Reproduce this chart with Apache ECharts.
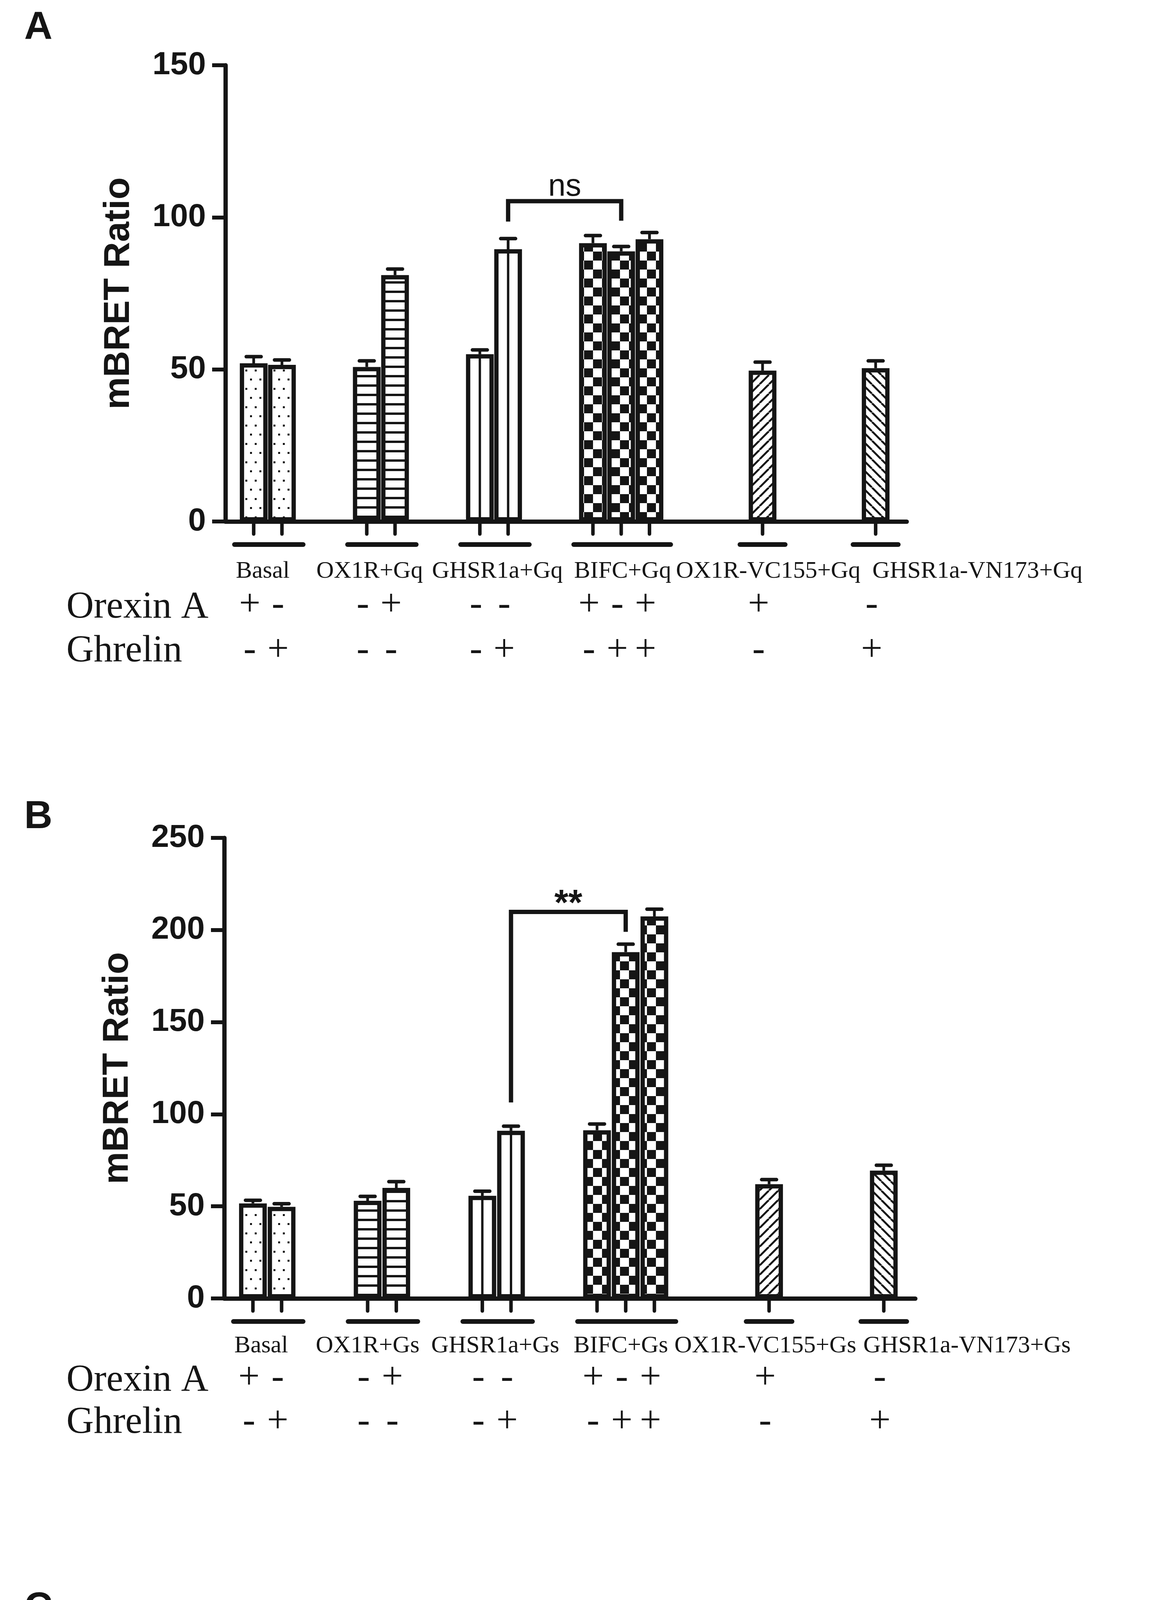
<!DOCTYPE html>
<html><head><meta charset="utf-8">
<script src="https://cdn.jsdelivr.net/npm/echarts@6/dist/echarts.min.js"></script>
<style>html,body{margin:0;padding:0;background:#fff}#c{width:3000px;height:5868px}</style>
</head><body><div id="c"></div>
<script>
// ---------------- data ----------------
const groupSizes = [2, 2, 2, 3, 1, 1];
const groupGaps  = [2, 2, 2, 3, 3];               // empty slots after each group
const labelsA = ['Basal', 'OX1R+Gq', 'GHSR1a+Gq', 'BIFC+Gq', 'OX1R-VC155+Gq', 'GHSR1a-VN173+Gq'];
const labelsB = ['Basal', 'OX1R+Gs', 'GHSR1a+Gs', 'BIFC+Gs', 'OX1R-VC155+Gs', 'GHSR1a-VN173+Gs'];
const labelsC = ['Basal', 'OX1R+Gi', 'GHSR1a+Gi', 'BIFC+Gi', 'OX1R-VC155+Gi', 'GHSR1a-VN173+Gi'];
const barPatterns = ['dots', 'dots', 'hlines', 'hlines', 'vline', 'vline', 'checker', 'checker', 'checker', 'fwd', 'back'];
const orexinA = ['+', '-', '-', '+', '-', '-', '+', '-', '+', '+', '-'];
const ghrelin = ['-', '+', '-', '-', '-', '+', '-', '+', '+', '-', '+'];

const valuesA = [52.0, 51.5, 50.8, 81.0, 55.0, 89.5, 91.5, 88.8, 92.8, 49.6, 50.4];
const errA    = [2.2, 1.6, 2.0, 2.0, 1.4, 3.5, 2.5, 1.6, 2.2, 2.8, 2.4];
const valuesB = [51.6, 49.7, 53.0, 60.0, 55.7, 91.0, 91.3, 188.0, 207.4, 62.0, 69.4];
const errB    = [1.7, 1.7, 2.4, 3.4, 2.5, 2.5, 3.4, 4.3, 3.9, 2.5, 2.9];
const valuesC = [54.7, 52.5, 44.5, 54.1, 51.3, 103.5, 60.9, 92.8, 90.4, 51.3, 52.8];
const errC    = [1.5, 1.4, 3.3, 2.1, 2.1, 2.6, 2.9, 1.4, 1.4, 2.0, 1.9];

const yTicksA = [0, 50, 100, 150];
const yTicksB = [0, 50, 100, 150, 200, 250];
const yTicksC = [0, 50, 100, 150];

// significance brackets: [fromBar, toBar, top, leftBottom, rightBottom, text]
const bracketA = [5, 7, 105.3, 98.6, 98.9, 'ns'];
const bracketB = [5, 7, 209.8, 106.4, 199.0, '**'];
const bracketC = [5, 7, 114.8, 108.4, 108.4, 'ns'];

const rowTitles = ['Orexin A', 'Ghrelin'];

// ---------------- layout ----------------
const INK = '#151515';
const slots = [];
(function () { let s = 0; groupSizes.forEach((n, g) => { for (let i = 0; i < n; i++) slots.push(s + i); s += n + (groupGaps[g] || 0); }); })();
const groupFirst = []; const groupLast = [];
(function () { let b = 0; groupSizes.forEach(n => { groupFirst.push(slots[b]); groupLast.push(slots[b + n - 1]); b += n; }); })();

const panels = [
  { letter: 'A', letterY: 70, labels: labelsA, values: valuesA, errs: errA, ticks: yTicksA, bracket: bracketA,
    grid: { left: 577, top: 167, width: 1744, height: 1168 }, rows: [128, 221, 333],
    labelX: [0.32, 4.1, 8.62, 13.05, 18.2, 25.6] },
  { letter: 'B', letterY: 2090, labels: labelsB, values: valuesB, errs: errB, ticks: yTicksB, bracket: bracketB,
    grid: { left: 574, top: 2145, width: 1769, height: 1179 }, rows: [122, 211, 319],
    labelX: [0.29, 4.0, 8.45, 12.83, 17.87, 24.9] },
  { letter: 'C', letterY: 4116, labels: labelsC, values: valuesC, errs: errC, ticks: yTicksC, bracket: bracketC,
    grid: { left: 577, top: 4181, width: 1766, height: 1173 }, rows: [125, 209, 321],
    labelX: [0.23, 3.86, 8.19, 12.55, 17.52, 24.47] }
];

// ---------------- fill patterns ----------------
function makePattern(type) {
  if (type === 'vline') return '#ffffff';
  const c = document.createElement('canvas');
  let w = 24, h = 24;
  if (type === 'dots') { w = 24; h = 47; }
  if (type === 'hlines') { w = 8; h = 24; }
  if (type === 'checker') { w = 46; h = 46; }
  c.width = w; c.height = h;
  const g = c.getContext('2d');
  g.fillStyle = '#ffffff'; g.fillRect(0, 0, w, h);
  g.fillStyle = INK; g.strokeStyle = INK;
  if (type === 'dots') { g.fillRect(4, 6, 5, 5); g.fillRect(16, 29, 5, 5); }
  if (type === 'hlines') { g.fillRect(0, 0, w, 6); }
  if (type === 'checker') { g.fillRect(0, 0, 23, 23); g.fillRect(23, 23, 23, 23); }
  if (type === 'fwd' || type === 'back') {
    g.lineWidth = 5;
    for (let k = -1; k <= 1; k++) {
      g.beginPath();
      if (type === 'fwd') { g.moveTo(k * w, h); g.lineTo(k * w + w, 0); }
      else { g.moveTo(k * w, 0); g.lineTo(k * w + w, h); }
      g.stroke();
    }
  }
  return { image: c, repeat: 'repeat' };
}
const patCache = {};
function pat(t) { if (!patCache[t]) patCache[t] = makePattern(t); return patCache[t]; }

// ---------------- option ----------------
const grids = [], xAxes = [], yAxes = [], series = [], graphics = [];
const serif = '"Liberation Serif", "Times New Roman", serif';
const sans = '"Liberation Sans", Arial, sans-serif';

panels.forEach((P, k) => {
  grids.push(Object.assign({ containLabel: false }, P.grid));
  xAxes.push({
    gridIndex: k, type: 'value', min: -1, max: 23.1,
    axisLine: { show: true, onZero: false, lineStyle: { color: INK, width: 11, cap: 'round' } },
    axisTick: { show: false }, axisLabel: { show: false }, splitLine: { show: false }
  });
  const yMax = P.ticks[P.ticks.length - 1];
  yAxes.push({
    gridIndex: k, type: 'value', min: P.ticks[0], max: yMax, interval: P.ticks[1] - P.ticks[0],
    axisLine: { show: true, onZero: false, lineStyle: { color: INK, width: 11 } },
    axisTick: { show: true, length: 34, lineStyle: { color: INK, width: 10 } },
    axisLabel: { color: INK, fontSize: 82, fontWeight: 'bold', fontFamily: sans, margin: 50 },
    splitLine: { show: false },
    name: 'mBRET Ratio', nameLocation: 'middle', nameRotate: 90, nameGap: 226,
    nameTextStyle: { color: INK, fontSize: 93, fontWeight: 'bold', fontFamily: sans }
  });

  // bars
  series.push({
    type: 'bar', xAxisIndex: k, yAxisIndex: k, barWidth: 71, silent: true, z: 2,
    itemStyle: { borderColor: INK, borderWidth: 11 },
    data: P.values.map((v, i) => ({ value: [slots[i], v], itemStyle: { color: pat(barPatterns[i]) } }))
  });

  // error bars, ticks under axis, centre line, +/- marks
  series.push({
    type: 'custom', xAxisIndex: k, yAxisIndex: k, clip: false, silent: true, z: 5,
    encode: { x: 0, y: 1 },
    data: P.values.map((v, i) => [slots[i], v, P.errs[i], i]),
    renderItem: function (params, api) {
      const x = api.value(0), v = api.value(1), e = api.value(2), i = api.value(3);
      const p0 = api.coord([x, 0]), pt = api.coord([x, v]), pe = api.coord([x, v + e]);
      const ch = [
        { type: 'line', shape: { x1: pt[0], y1: pt[1], x2: pt[0], y2: pe[1] }, style: { stroke: INK, lineWidth: 7 } },
        { type: 'line', shape: { x1: pt[0] - 19, y1: pe[1], x2: pt[0] + 19, y2: pe[1] }, style: { stroke: INK, lineWidth: 9, lineCap: 'round' } },
        { type: 'line', shape: { x1: p0[0], y1: p0[1], x2: p0[0], y2: p0[1] + 32 }, style: { stroke: INK, lineWidth: 9, lineCap: 'round' } },
        { type: 'text', x: p0[0] - 10, y: p0[1] + P.rows[1] - 6, style: { text: orexinA[i], fill: INK, font: '97px ' + serif, align: 'center', verticalAlign: 'middle' } },
        { type: 'text', x: p0[0] - 10, y: p0[1] + P.rows[2] - 2, style: { text: ghrelin[i], fill: INK, font: '97px ' + serif, align: 'center', verticalAlign: 'middle' } }
      ];
      if (barPatterns[i] === 'vline') {
        ch.push({ type: 'line', shape: { x1: pt[0], y1: p0[1], x2: pt[0], y2: pt[1] }, style: { stroke: INK, lineWidth: 6 } });
      }
      return { type: 'group', children: ch };
    }
  });

  // group underlines and group labels
  series.push({
    type: 'custom', xAxisIndex: k, yAxisIndex: k, clip: false, silent: true, z: 5,
    encode: { x: [0, 1], y: 2 },
    data: P.labels.map((l, g) => [groupFirst[g], groupLast[g], 0, g]),
    renderItem: function (params, api) {
      const a = api.value(0), b = api.value(1), g = api.value(3);
      const u = api.size([1, 0])[0];
      const pa = api.coord([a, 0]), pb = api.coord([b, 0]);
      const padL = a === b ? 0.8 : 0.68, padR = a === b ? 0.8 : 0.75;
      const lx = api.coord([P.labelX[g], 0])[0];
      return { type: 'group', children: [
        { type: 'line', shape: { x1: pa[0] - padL * u, y1: pa[1] + 59, x2: pb[0] + padR * u, y2: pa[1] + 59 }, style: { stroke: INK, lineWidth: 12, lineCap: 'round' } },
        { type: 'text', x: lx, y: pa[1] + P.rows[0], style: { text: P.labels[g], fill: INK, font: '62px ' + serif, align: 'center', verticalAlign: 'middle' } }
      ] };
    }
  });

  // significance bracket
  const br = P.bracket;
  series.push({
    type: 'custom', xAxisIndex: k, yAxisIndex: k, clip: false, silent: true, z: 6,
    encode: { x: [0, 1], y: [2, 3, 4] },
    data: [[slots[br[0]], slots[br[1]], br[2], br[3], br[4]]],
    renderItem: function (params, api) {
      const xl = api.value(0), xr = api.value(1), t = api.value(2), bl = api.value(3), bR = api.value(4);
      const pl = api.coord([xl, bl]), ptl = api.coord([xl, t]), ptr = api.coord([xr, t]), pr = api.coord([xr, bR]);
      const isStar = br[5] === '**';
      const mid = api.coord([(xl + xr) / 2, t]);
      return { type: 'group', children: [
        { type: 'polyline', shape: { points: [pl, ptl, ptr, pr] }, style: { stroke: INK, lineWidth: 11, fill: null, lineJoin: 'miter' } },
        { type: 'text', x: mid[0], y: mid[1] - (isStar ? 18 : 36),
          style: { text: br[5], fill: INK, font: (isStar ? 'bold 92px ' : '80px ') + sans, align: 'center', verticalAlign: 'middle' } }
      ] };
    }
  });

  // panel letter and row titles
  const zeroY = P.grid.top + P.grid.height;
  graphics.push({ type: 'text', x: 62, y: P.letterY + 2, style: { text: P.letter, fill: INK, font: 'bold 100px ' + sans, verticalAlign: 'middle' } });
  graphics.push({ type: 'text', x: 170, y: zeroY + P.rows[1], style: { text: rowTitles[0], fill: INK, font: '97px ' + serif, verticalAlign: 'middle' } });
  graphics.push({ type: 'text', x: 170, y: zeroY + P.rows[2], style: { text: rowTitles[1], fill: INK, font: '97px ' + serif, verticalAlign: 'middle' } });
});

const chart = echarts.init(document.getElementById('c'), null, { renderer: 'canvas' });
chart.setOption({
  backgroundColor: '#ffffff',
  animation: false,
  grid: grids, xAxis: xAxes, yAxis: yAxes, series: series, graphic: graphics
});
</script></body></html>
